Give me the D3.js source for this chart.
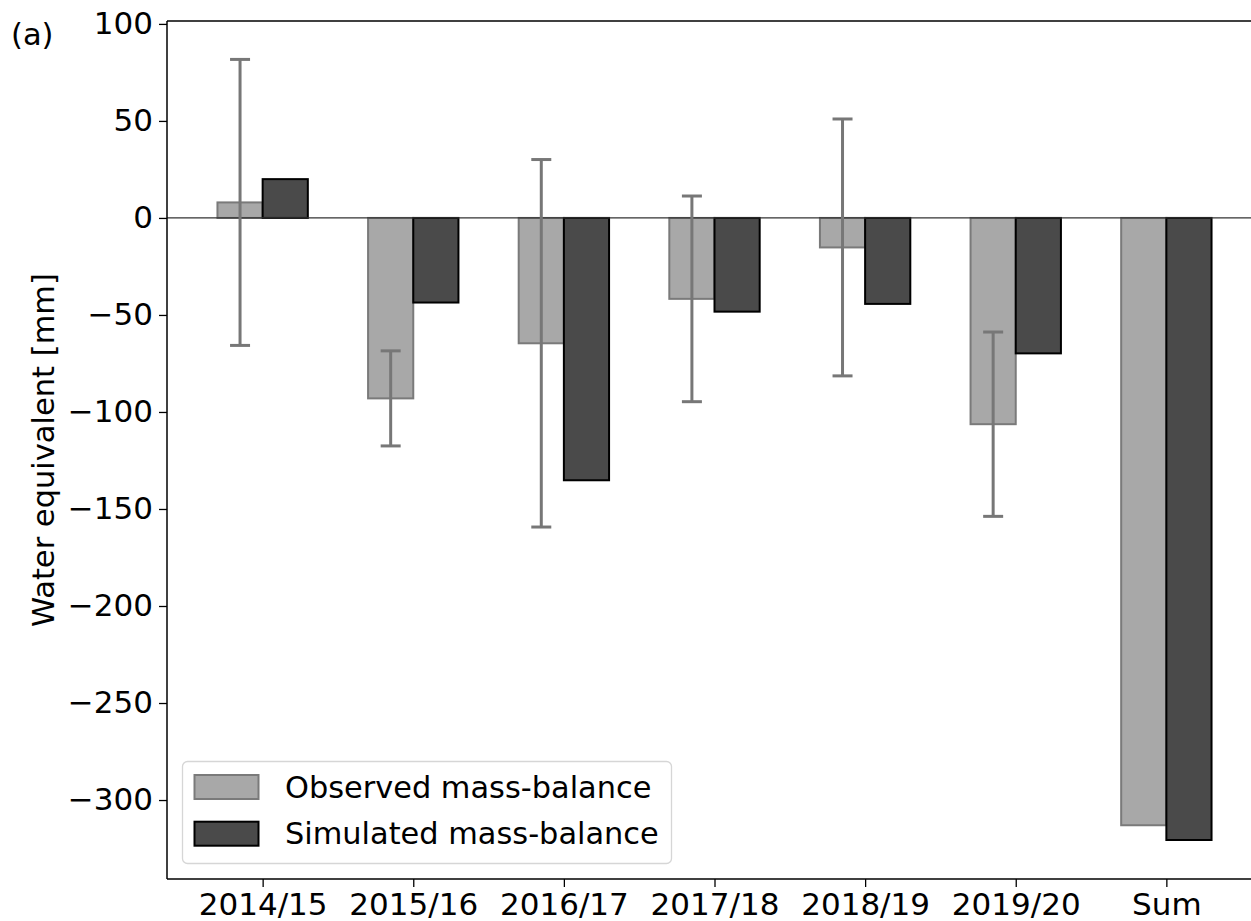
<!DOCTYPE html>
<html>
<head>
<meta charset="utf-8">
<script src="https://cdn.jsdelivr.net/npm/d3@7"></script>
<style>
  html, body { margin: 0; padding: 0; background: #fff; }
  svg { display: block; font-family: "DejaVu Sans", sans-serif; }
</style>
</head>
<body>
<svg id="chart" width="1251" height="921"></svg>
<script>
// Annual glacier mass balance, observed vs simulated (mm w.e.)
const categories = ["2014/15", "2015/16", "2016/17", "2017/18", "2018/19", "2019/20", "Sum"];
const observed   = [8, -93, -64.6, -41.7, -15.2, -106.3, -313];
const observedErr = [73.7, 24.5, 94.7, 53, 66.2, 47.5, null];
const simulated  = [20, -43.6, -135.2, -48.3, -44.3, -69.8, -320.6];
const yTicks = [100, 50, 0, -50, -100, -150, -200, -250, -300];
const seriesNames = ["Observed mass-balance", "Simulated mass-balance"];

const svg = d3.select("#chart");
const plot = { left: 167, right: 1262, top: 21, bottom: 879 };
const barWidth = 0.3;

// x in category-index units, with margins as in the original layout
const x = d3.scaleLinear().domain([-0.635, 6.635]).range([plot.left, plot.right]);
const y = d3.scaleLinear().domain([-340.7, 101.5]).range([plot.bottom, plot.top]);

const tickFont = 31;
const legendFont = 30.4;

// bars: observed left of tick, simulated right of tick
const g = svg.append("g");
g.selectAll("rect.obs").data(observed).join("rect")
  .attr("class", "obs")
  .attr("x", (d, i) => x(i - barWidth))
  .attr("width", x(barWidth) - x(0))
  .attr("y", d => y(Math.max(0, d)))
  .attr("height", d => Math.abs(y(d) - y(0)))
  .attr("fill", "#a8a8a8")
  .attr("stroke", "#7a7a7a")
  .attr("stroke-width", 2);

g.selectAll("rect.sim").data(simulated).join("rect")
  .attr("class", "sim")
  .attr("x", (d, i) => x(i))
  .attr("width", x(barWidth) - x(0))
  .attr("y", d => y(Math.max(0, d)))
  .attr("height", d => Math.abs(y(d) - y(0)))
  .attr("fill", "#4a4a4a")
  .attr("stroke", "#000")
  .attr("stroke-width", 2);

// zero line
g.append("line")
  .attr("x1", plot.left).attr("x2", plot.right)
  .attr("y1", y(0)).attr("y2", y(0))
  .attr("stroke", "#333").attr("stroke-width", 1.2);

// error bars on observed
const errData = observed.map((v, i) => ({ i, v, e: observedErr[i] })).filter(d => d.e != null);
const eb = g.selectAll("g.err").data(errData).join("g").attr("class", "err")
  .attr("stroke", "#777").attr("stroke-width", 3);
eb.append("line")
  .attr("x1", d => x(d.i - barWidth / 2)).attr("x2", d => x(d.i - barWidth / 2))
  .attr("y1", d => y(d.v + d.e)).attr("y2", d => y(d.v - d.e));
eb.append("line")
  .attr("x1", d => x(d.i - barWidth / 2) - 10).attr("x2", d => x(d.i - barWidth / 2) + 10)
  .attr("y1", d => y(d.v + d.e)).attr("y2", d => y(d.v + d.e));
eb.append("line")
  .attr("x1", d => x(d.i - barWidth / 2) - 10).attr("x2", d => x(d.i - barWidth / 2) + 10)
  .attr("y1", d => y(d.v - d.e)).attr("y2", d => y(d.v - d.e));

// axes
const yAxis = d3.axisLeft(y).tickValues(yTicks).tickSize(8).tickPadding(6)
  .tickFormat(d => d < 0 ? "\u2212" + Math.abs(d) : d);
const ya = svg.append("g").attr("transform", `translate(${plot.left},0)`).call(yAxis);
ya.select(".domain").remove();
ya.selectAll("text").attr("font-size", tickFont).attr("fill", "#000").attr("font-family", "DejaVu Sans");
ya.selectAll("line").attr("stroke", "#000").attr("stroke-width", 1.3);

const xAxis = d3.axisBottom(x).tickValues(d3.range(categories.length)).tickSize(8).tickPadding(6)
  .tickFormat(i => categories[i]);
const xa = svg.append("g").attr("transform", `translate(0,${plot.bottom})`).call(xAxis);
xa.select(".domain").remove();
xa.selectAll("text").attr("font-size", tickFont).attr("fill", "#000").attr("font-family", "DejaVu Sans");
xa.selectAll("line").attr("stroke", "#000").attr("stroke-width", 1.3);

// spines: left, top, bottom
const spine = svg.append("g").attr("stroke", "#000").attr("stroke-width", 1.5).attr("fill", "none");
spine.append("line").attr("x1", plot.left).attr("x2", plot.left).attr("y1", plot.top).attr("y2", plot.bottom);
spine.append("line").attr("x1", plot.left).attr("x2", plot.right).attr("y1", plot.top).attr("y2", plot.top);
spine.append("line").attr("x1", plot.left).attr("x2", plot.right).attr("y1", plot.bottom).attr("y2", plot.bottom);

// y label
svg.append("text")
  .attr("transform", `translate(53.5,${(plot.top + plot.bottom) / 2}) rotate(-90)`)
  .attr("text-anchor", "middle")
  .attr("font-size", 30.5)
  .text("Water equivalent [mm]");

// panel label
svg.append("text").attr("x", 11).attr("y", 45).attr("font-size", 30.5).text("(a)");

// legend
const legend = svg.append("g");
legend.append("rect")
  .attr("x", 182.5).attr("y", 761.5).attr("width", 489).attr("height", 102).attr("rx", 5)
  .attr("fill", "#fff").attr("fill-opacity", 0.8).attr("stroke", "#d6d6d6").attr("stroke-width", 1.3);
const legFill = ["#a8a8a8", "#4a4a4a"];
const legStroke = ["#7a7a7a", "#000"];
seriesNames.forEach((name, k) => {
  const cy = 787 + k * 46.7;
  legend.append("rect")
    .attr("x", 194.5).attr("y", cy - 12).attr("width", 64).attr("height", 24)
    .attr("fill", legFill[k]).attr("stroke", legStroke[k]).attr("stroke-width", 2);
  legend.append("text")
    .attr("x", 285).attr("y", cy + 10.5).attr("font-size", legendFont).text(name);
});
</script>
</body>
</html>
